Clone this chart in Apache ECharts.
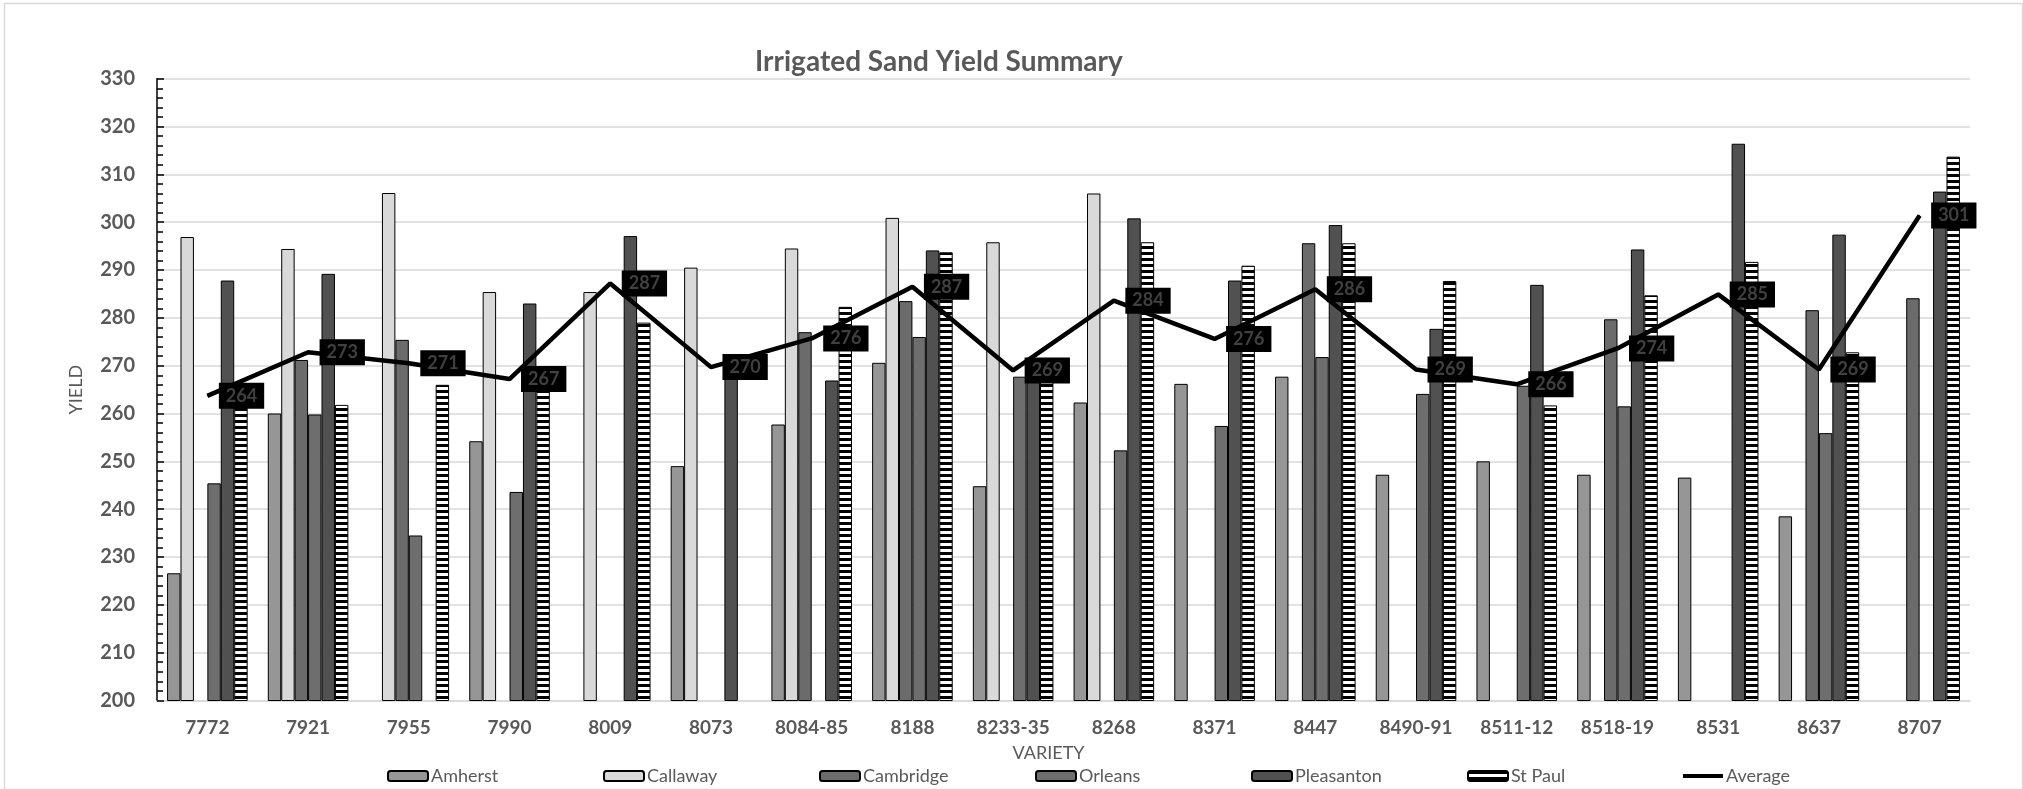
<!DOCTYPE html>
<html>
<head>
<meta charset="utf-8">
<script src="https://cdn.jsdelivr.net/npm/echarts@6/dist/echarts.min.js"></script>
<style>
html,body{margin:0;padding:0;background:#fff;}
#chart{width:2023px;height:789px;}
</style>
</head>
<body>
<div id="chart"></div>
<script>
const categories = ['7772','7921','7955','7990','8009','8073','8084-85','8188','8233-35','8268','8371','8447','8490-91','8511-12','8518-19','8531','8637','8707'];
const amherst    = [226.6, 260.0, null, 254.2, null, 249.0, 257.7, 270.6, 244.8, 262.3, 266.2, 267.7, 247.2, 250.0, 247.2, 246.6, 238.5, null];
const callaway   = [296.9, 294.4, 306.1, 285.4, 285.4, 290.5, 294.5, 300.9, 295.8, 306.0, null, null, null, null, null, null, null, null];
const cambridge  = [null, 271.2, 275.4, null, null, null, 277.0, 283.5, null, null, null, 295.6, null, null, 279.7, null, 281.6, 284.1];
const orleans    = [245.4, 259.8, 234.5, 243.6, null, null, null, 276.0, 267.7, 252.3, 257.4, 271.8, 264.1, 265.8, 261.5, null, 255.9, null];
const pleasanton = [287.8, 289.2, null, 283.0, 297.1, 270.0, 266.9, 294.1, 268.5, 300.8, 287.8, 299.4, 277.7, 286.9, 294.3, 316.4, 297.4, 306.4];
const stPaul     = [263.3, 261.8, 266.0, 269.0, 279.0, null, 282.3, 293.7, 268.2, 295.8, 290.9, 295.6, 287.7, 261.7, 284.7, 291.7, 272.8, 313.7];
const average    = [263.7, 272.8, 270.5, 267.2, 287.2, 269.7, 275.7, 286.5, 269.0, 283.6, 275.6, 286.0, 269.2, 266.1, 273.6, 284.9, 269.2, 301.4];
const yTicks = { min: 200, max: 330, step: 10 };

const FONT = 'Lato';
const GRAY = '#595959';

// horizontal stripe pattern for St Paul
const pat = document.createElement('canvas');
pat.width = 4; pat.height = 6;
const pctx = pat.getContext('2d');
pctx.fillStyle = '#ffffff'; pctx.fillRect(0, 0, 4, 6);
pctx.fillStyle = '#000000'; pctx.fillRect(0, 0, 4, 3);

const barSeries = [
  ['Amherst', amherst, '#969696'],
  ['Callaway', callaway, '#d9d9d9'],
  ['Cambridge', cambridge, '#6b6b6b'],
  ['Orleans', orleans, '#6e6e6e'],
  ['Pleasanton', pleasanton, '#515151'],
  ['St Paul', stPaul, { image: pat, repeat: 'repeat' }]
].map(([name, data, color]) => ({
  name, type: 'bar', data,
  barGap: '0%', barCategoryGap: '20%',
  itemStyle: { color, borderColor: '#000', borderWidth: 1 },
  emphasis: { disabled: true }
}));

// label nudges for a few average labels (index -> [dx, dy])
const nudge = { 1: [5, -4], 3: [6, -16], 4: [12, 0], 5: [3, -13], 6: [9, -8] };

const avgSeries = {
  name: 'Average', type: 'line', z: 5,
  data: average.map((v, i) => nudge[i] ? { value: v, label: { offset: nudge[i] } } : v),
  symbol: 'circle', symbolSize: 1, showSymbol: true,
  lineStyle: { color: '#000', width: 4.5 },
  itemStyle: { color: '#000' },
  label: {
    show: true, position: 'right', distance: 11,
    formatter: p => Math.round(p.value),
    color: '#404040', fontFamily: FONT, fontWeight: 'bold', fontSize: 18, lineHeight: 18,
    backgroundColor: '#000', padding: [4, 7, 4, 7]
  },
  labelLayout: { hideOverlap: false },
  emphasis: { disabled: true }
};

const names = ['Amherst','Callaway','Cambridge','Orleans','Pleasanton','St Paul','Average'];
const legends = names.map((n, i) => {
  const isLine = n === 'Average';
  return {
    data: [isLine ? { name: n, icon: 'rect', itemStyle: { color: '#000', borderWidth: 0 } } : n],
    left: 382 + i * 216, top: 762,
    itemWidth: 40, itemHeight: isLine ? 4 : 10, itemGap: 0,
    textStyle: { color: GRAY, fontFamily: FONT, fontSize: 18, padding: [0, 0, 0, -2] },
    selectedMode: false
  };
});

const chart = echarts.init(document.getElementById('chart'), null, { renderer: 'canvas' });
chart.setOption({
  animation: false,
  backgroundColor: '#fff',
  title: {
    text: 'Irrigated Sand Yield Summary', left: 750, top: 43,
    textStyle: { color: GRAY, fontFamily: FONT, fontWeight: 'bold', fontSize: 28 }
  },
  legend: legends,
  grid: { left: 157, right: 53, top: 78.7, bottom: 88.5, containLabel: false },
  xAxis: {
    type: 'category', data: categories,
    axisLine: { lineStyle: { color: '#d9d9d9', width: 1.5 } },
    axisTick: { show: false },
    axisLabel: { color: GRAY, fontFamily: FONT, fontWeight: 'bold', fontSize: 19, margin: 18, interval: 0 },
    name: 'VARIETY', nameLocation: 'middle', nameGap: 44,
    nameTextStyle: { color: GRAY, fontFamily: FONT, fontSize: 18, padding: [0, 30, 0, 0] }
  },
  yAxis: {
    type: 'value', min: yTicks.min, max: yTicks.max, interval: yTicks.step,
    axisLine: { show: true, lineStyle: { color: '#000', width: 1.5 } },
    axisTick: { show: true, inside: true, length: 7, lineStyle: { color: '#000', width: 1.5 } },
    minorTick: { show: true, splitNumber: 5, length: 6, lineStyle: { color: '#000', width: 1.5 } },
    splitLine: { lineStyle: { color: '#d9d9d9', width: 1.5 } },
    axisLabel: { color: GRAY, fontFamily: FONT, fontWeight: 'bold', fontSize: 20, margin: 22 },
    name: 'YIELD', nameLocation: 'middle', nameGap: 72,
    nameTextStyle: { color: GRAY, fontFamily: FONT, fontSize: 18 }
  },
  graphic: [{
    type: 'rect', left: 2, top: 1, shape: { width: 2018, height: 786 },
    style: { fill: 'none', stroke: '#d9d9d9', lineWidth: 1.5 }, silent: true, z: -10
  }],
  series: [...barSeries, avgSeries]
});
</script>
</body>
</html>
